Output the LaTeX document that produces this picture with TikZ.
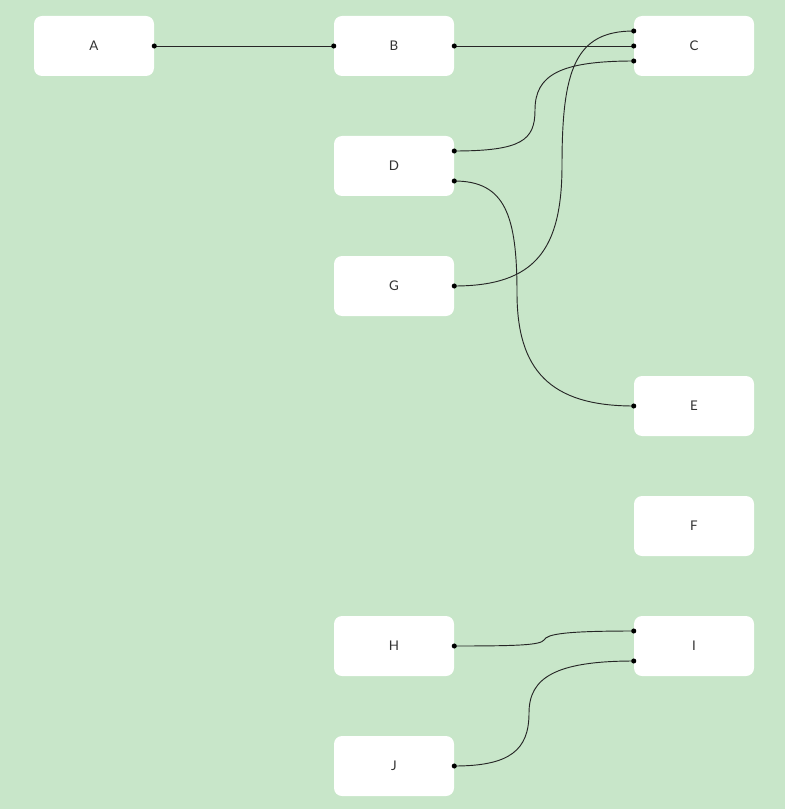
\documentclass[tikz,border=0pt]{standalone}
\usepackage{fontspec}
\setmainfont{Lato}
\definecolor{bgreen}{HTML}{C8E6C9}
\definecolor{txtgray}{HTML}{333333}
\tikzset{
  box/.style={rectangle, rounded corners=6pt, fill=white, minimum width=90pt, minimum height=45pt, font=\fontsize{10}{12}\selectfont, text=txtgray},
  wire/.style={draw=black!85, line width=0.7pt},
  port/.style={fill=black}
}
\begin{document}
\begin{tikzpicture}[x=0.75pt, y=-0.75pt]
        \fill[bgreen] (0,0) rectangle (785,809);
        \useasboundingbox (0,0) rectangle (785,809);

        % Nodes
        \node (a) [box] at (94, 46) {A};
        \node (b) [box] at (394, 46) {B};
        \node (c) [box] at (694, 46) {C};
        \node (d) [box] at (394, 166) {D};
        \node (g) [box] at (394, 286) {G};
        \node (e) [box] at (694, 406) {E};
        \node (f) [box] at (694, 526) {F};
        \node (h) [box] at (394, 646) {H};
        \node (i) [box] at (694, 646) {I};
        \node (j) [box] at (394, 766) {J};

        % Ports
        \coordinate (c-in1) at ([yshift=11.25pt]c.west);
        \coordinate (c-in3) at ([yshift=-11.25pt]c.west);
        \coordinate (d-out1) at ([yshift=11.25pt]d.east);
        \coordinate (d-out2) at ([yshift=-11.25pt]d.east);
        \coordinate (i-in1) at ([yshift=11.25pt]i.west);
        \coordinate (i-in2) at ([yshift=-11.25pt]i.west);

        % Edges
        \draw[wire] (a.east) -- (b.west);
        \draw[wire] (b.east) -- (c.west);
        \draw[wire] (d-out1) .. controls (522,151) and (535,140) .. (535,110)
            .. controls (535,75) and (560,61) .. (c-in3);
        \draw[wire] (g.east) .. controls (535,286) and (562,250) .. (562,165)
            .. controls (562,70) and (575,31) .. (c-in1);
        \draw[wire] (d-out2) .. controls (505,181) and (517,215) .. (517,293)
            .. controls (517,370) and (550,406) .. (e.west);
        \draw[wire] (h.east) .. controls (520,646) and (540,645) .. (544,640)
            .. controls (547,634) and (565,631) .. (i-in1);
        \draw[wire] (j.east) .. controls (510,766) and (529,750) .. (529,713)
            .. controls (529,678) and (555,661) .. (i-in2);

        % Port dots
        \foreach \p in {a.east, b.west, b.east, c.west, c-in1, c-in3, d-out1, d-out2, g.east, e.west, h.east, i-in1, i-in2, j.east}
            \fill[port] (\p) circle (1.9pt);
    \end{tikzpicture}
\end{document}
